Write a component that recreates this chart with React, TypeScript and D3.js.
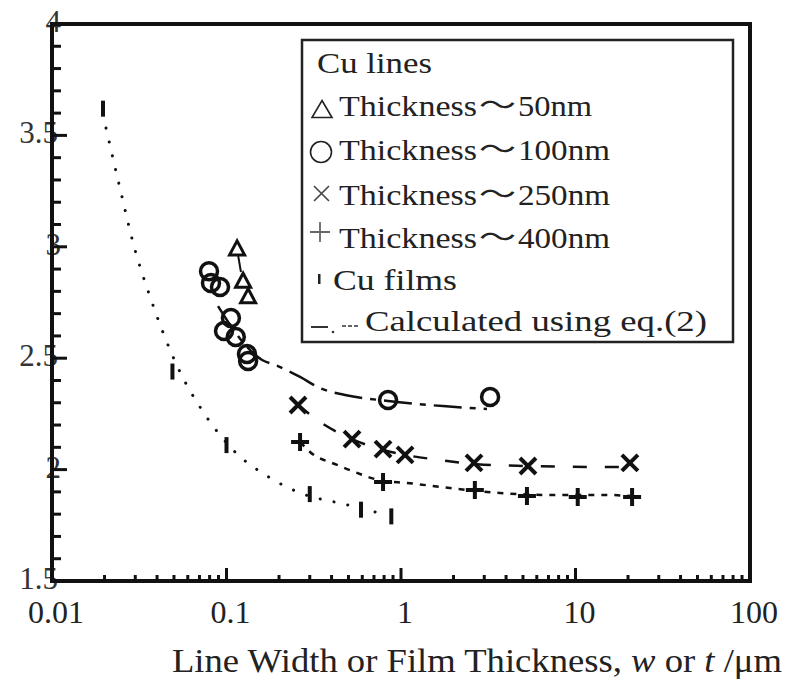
import React from 'react';
import * as d3 from 'd3';

// measured points (w or t in um, rho in uOhm cm)
const films_x = [0.0196, 0.049, 0.1, 0.3, 0.59, 0.88];
const films_y = [3.62, 2.44, 2.11, 1.89, 1.82, 1.79];

const t50_x = [0.115, 0.1245, 0.133];
const t50_y = [2.995, 2.85, 2.78];

const t100_x = [0.0794, 0.0815, 0.0918, 0.106, 0.0968, 0.113, 0.131, 0.133, 0.843, 3.24];
const t100_y = [2.89, 2.838, 2.82, 2.68, 2.622, 2.595, 2.519, 2.487, 2.312, 2.326];

const t250_x = [0.257, 0.524, 0.789, 1.055, 2.62, 5.34, 20.5];
const t250_y = [2.29, 2.137, 2.092, 2.066, 2.03, 2.016, 2.03];

const t400_x = [0.264, 0.789, 2.65, 5.27, 10.3, 21.1];
const t400_y = [2.124, 1.944, 1.908, 1.882, 1.877, 1.877];

// calculated curves (eq.2)
const calcFilms_x = [0.0204, 0.0245, 0.0299, 0.0365, 0.0427, 0.0556, 0.0705, 0.112, 0.171, 0.257, 0.497, 0.832];
const calcFilms_y = [3.533, 3.264, 2.986, 2.775, 2.627, 2.42, 2.281, 2.079, 1.971, 1.899, 1.841, 1.796];

const calc50_x = [0.1165, 0.121];
const calc50_y = [2.963, 2.887];

const calc100_x = [0.0894, 0.128, 0.16, 0.19, 0.264, 0.343, 0.478, 0.843, 1.74, 3.11];
const calc100_y = [2.734, 2.56, 2.492, 2.47, 2.416, 2.366, 2.335, 2.308, 2.285, 2.272];

const calc250_x = [0.257, 0.366, 0.524, 0.789, 1.055, 1.67, 2.62, 5.34, 13.8, 21];
const calc250_y = [2.29, 2.2, 2.137, 2.088, 2.066, 2.043, 2.025, 2.016, 2.012, 2.012];

const calc400_x = [0.264, 0.301, 0.43, 0.56, 0.789, 1.08, 1.91, 3.69, 7.15, 15.2, 21.1];
const calc400_y = [2.124, 2.079, 2.021, 1.985, 1.949, 1.94, 1.917, 1.895, 1.886, 1.886, 1.881];

const xTicks = [0.01, 0.1, 1, 10, 100];
const xTickLabels = ['0.01', '0.1', '1', '10', '100'];
const yTicks = [1.5, 2, 2.5, 3, 3.5, 4];
const yTickLabels = ['1.5', '2', '2.5', '3', '3.5', '4'];

const legendNm = ['50nm', '100nm', '250nm', '400nm'];

const serif = { fontFamily: "'Liberation Serif', 'Times New Roman', serif" };
const cjk = { fontFamily: "'Noto Sans CJK JP', 'Noto Sans CJK SC', sans-serif" };

const zip = (xs: number[], ys: number[]) => xs.map((v, i) => [v, ys[i]] as [number, number]);

const App = () => {
    const left = 52, right = 750, top = 24, bottom = 581;
    const x = d3.scaleLog().domain([0.01, 100]).range([left, right]);
    const y = d3.scaleLinear().domain([1.5, 4]).range([bottom, top]);

    const line = d3
        .line<[number, number]>()
        .x(d => x(d[0]))
        .y(d => y(d[1]))
        .curve(d3.curveMonotoneX);

    // minor ticks
    const xMinor: number[] = [];
    for (let p = -2; p < 2; p++) {
        for (let k = 2; k <= 9; k++) xMinor.push(k * Math.pow(10, p));
    }
    const yMinor = d3.range(15, 41).map(v => v / 10).filter(v => Math.round(v * 10) % 5 !== 0);

    const tri = (cx: number, cy: number, w: number, h: number) =>
        `M${cx},${cy - h / 2}L${cx + w / 2},${cy + h / 2}L${cx - w / 2},${cy + h / 2}Z`;

    const ink = '#111';

    return (
        <svg width={796} height={688} style={{ position: 'absolute', left: 0, top: 0, background: '#fff' }}>
            {/* calculated curves */}
            <path d={line(zip(calcFilms_x, calcFilms_y)) || ''} fill="none" stroke={ink}
                strokeWidth={3} strokeDasharray="0.1 14" strokeLinecap="round" />
            <path d={line(zip(calc50_x, calc50_y)) || ''} fill="none" stroke={ink} strokeWidth={2} />
            <path d={line(zip(calc100_x, calc100_y)) || ''} fill="none" stroke={ink}
                strokeWidth={2.5} strokeDasharray="28 8 6 8" />
            <path d={line(zip(calc250_x, calc250_y)) || ''} fill="none" stroke={ink}
                strokeWidth={2.5} strokeDasharray="14 18" />
            <path d={line(zip(calc400_x, calc400_y)) || ''} fill="none" stroke={ink}
                strokeWidth={2.5} strokeDasharray="6 7" />

            {/* films */}
            {zip(films_x, films_y).map((d, i) => (
                <rect key={'f' + i} x={x(d[0]) - 2} y={y(d[1]) - 8} width={4} height={16} fill={ink} />
            ))}
            {/* 50nm */}
            {zip(t50_x, t50_y).map((d, i) => (
                <path key={'a' + i} d={tri(x(d[0]), y(d[1]), 15, 14)} fill="none" stroke={ink} strokeWidth={3} />
            ))}
            {/* 100nm */}
            {zip(t100_x, t100_y).map((d, i) => (
                <circle key={'c' + i} cx={x(d[0])} cy={y(d[1])} r={8.5} fill="none" stroke={ink} strokeWidth={3.5} />
            ))}
            {/* 250nm */}
            {zip(t250_x, t250_y).map((d, i) => {
                const cx = x(d[0]), cy = y(d[1]);
                return (
                    <path key={'x' + i} d={`M${cx - 8},${cy - 8}L${cx + 8},${cy + 8}M${cx + 8},${cy - 8}L${cx - 8},${cy + 8}`}
                        stroke={ink} strokeWidth={4} />
                );
            })}
            {/* 400nm */}
            {zip(t400_x, t400_y).map((d, i) => {
                const cx = x(d[0]), cy = y(d[1]);
                return (
                    <path key={'p' + i} d={`M${cx - 9},${cy}L${cx + 9},${cy}M${cx},${cy - 9}L${cx},${cy + 9}`}
                        stroke={ink} strokeWidth={4} />
                );
            })}

            {/* y tick labels (drawn under axis, as in the original) */}
            {yTicks.map((t, i) => (
                <text key={'yl' + i} x={yTickLabels[i].length === 1 ? 61 : 58} y={y(t) + 8} textAnchor="end"
                    style={serif} fontSize={31} fill="#333">{yTickLabels[i]}</text>
            ))}

            {/* ticks */}
            {yTicks.map((t, i) => (
                <line key={'yt' + i} x1={left} x2={left + 15} y1={y(t)} y2={y(t)} stroke={ink} strokeWidth={3} />
            ))}
            {yMinor.map((t, i) => (
                <line key={'ym' + i} x1={left} x2={left + 9} y1={y(t)} y2={y(t)} stroke={ink} strokeWidth={3} />
            ))}
            {xTicks.map((t, i) => (
                <line key={'xt' + i} x1={x(t)} x2={x(t)} y1={bottom} y2={bottom - 13} stroke={ink} strokeWidth={3} />
            ))}
            {xMinor.map((t, i) => (
                <line key={'xm' + i} x1={x(t)} x2={x(t)} y1={bottom} y2={bottom - 6} stroke={ink} strokeWidth={3} />
            ))}

            {/* frame */}
            <line x1={left} x2={left} y1={top - 2} y2={bottom + 2} stroke={ink} strokeWidth={4} />
            <line x1={left - 2} x2={right + 2} y1={bottom} y2={bottom} stroke={ink} strokeWidth={4} />
            <line x1={left} x2={right + 2} y1={top} y2={top} stroke={ink} strokeWidth={4} />
            <line x1={right} x2={right} y1={top} y2={bottom} stroke={ink} strokeWidth={4} />

            {/* x tick labels */}
            {xTicks.map((t, i) => (
                <text key={'xl' + i} x={x(t) + 4} y={623} textAnchor="middle" style={serif}
                    fontSize={32} fill="#222">{xTickLabels[i]}</text>
            ))}
            <text x={172} y={672} style={serif} fontSize={34} fill="#222"
                textLength={610} lengthAdjust="spacingAndGlyphs">
                Line Width or Film Thickness, <tspan fontStyle="italic">w</tspan> or <tspan fontStyle="italic">t</tspan> /μm
            </text>

            {/* legend */}
            <rect x={302} y={40} width={431} height={302} fill="#fff" stroke="#222" strokeWidth={2.5} />
            <text x={317} y={73} style={serif} fontSize={29} fill="#222"
                textLength={115} lengthAdjust="spacingAndGlyphs">Cu lines</text>
            <path d={tri(322, 109, 20, 17)} fill="none" stroke="#222" strokeWidth={1.6} />
            <circle cx={321} cy={152} r={10.5} fill="none" stroke="#222" strokeWidth={1.6} />
            <path d="M314,186L329,201M329,186L314,201" stroke="#444" strokeWidth={1.6} />
            <path d="M310,232L330,232M320,222L320,242" stroke="#666" strokeWidth={1.8} />
            <rect x={318} y={274} width={2.5} height={10} fill="#222" />
            <line x1={311} x2={328} y1={327} y2={327} stroke="#333" strokeWidth={2} />
            <circle cx={333} cy={332} r={1.3} fill="#333" />
            <line x1={342} x2={358} y1={326} y2={326} stroke="#333" strokeWidth={1.5} strokeDasharray="4 2" />
            {legendNm.map((s, i) => {
                const by = [116, 160, 205, 248][i];
                return (
                    <g key={'lg' + i}>
                        <text x={339} y={by} style={serif} fontSize={29} fill="#222"
                            textLength={138} lengthAdjust="spacingAndGlyphs">Thickness</text>
                        <text x={479} y={by - 1} style={cjk} fontSize={27} fill="#222"
                            textLength={37} lengthAdjust="spacingAndGlyphs">～</text>
                        <text x={518} y={by} style={serif} fontSize={29} fill="#222"
                            textLength={i === 0 ? 74 : 92} lengthAdjust="spacingAndGlyphs">{s}</text>
                    </g>
                );
            })}
            <text x={333} y={290} style={serif} fontSize={29} fill="#222"
                textLength={124} lengthAdjust="spacingAndGlyphs">Cu films</text>
            <text x={365} y={331} style={serif} fontSize={29} fill="#222"
                textLength={342} lengthAdjust="spacingAndGlyphs">Calculated using eq.(2)</text>
        </svg>
    );
};

export default App;
